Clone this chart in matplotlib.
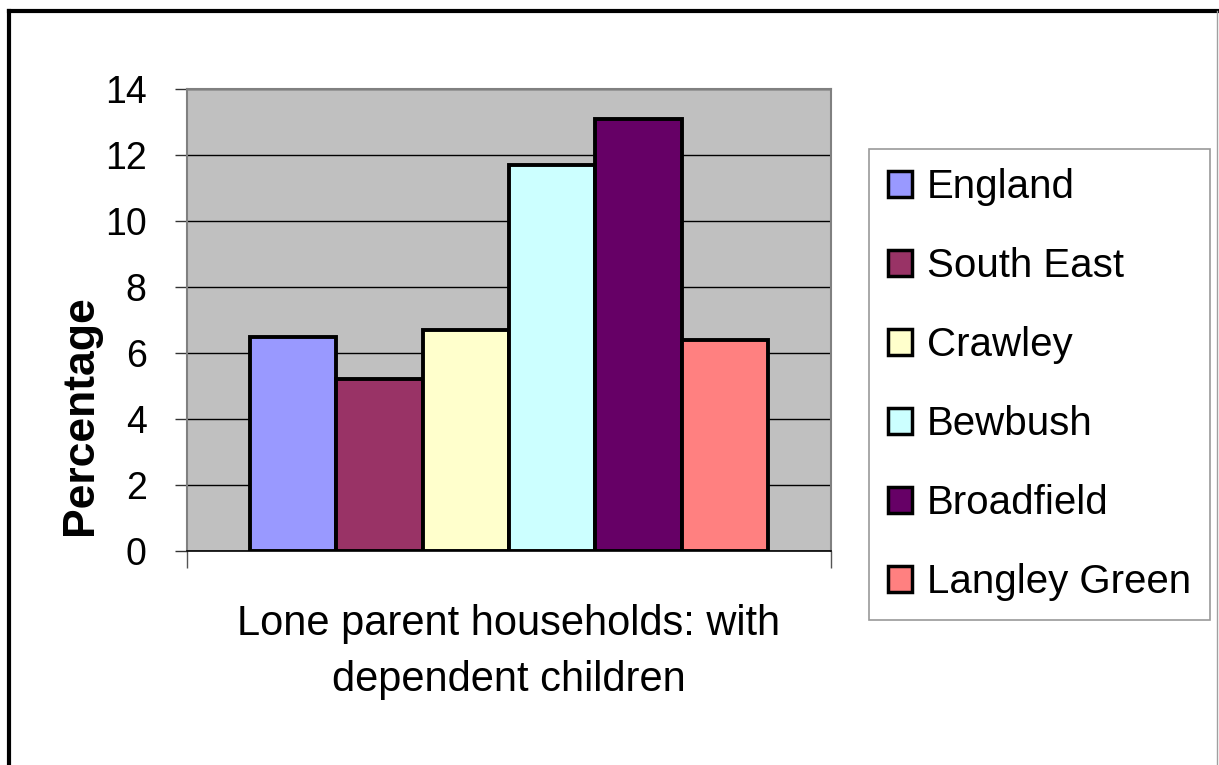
import matplotlib.pyplot as plt
from matplotlib.lines import Line2D

# Data
areas = ["England", "South East", "Crawley", "Bewbush", "Broadfield", "Langley Green"]
values = [6.5, 5.2, 6.7, 11.7, 13.1, 6.4]
colors = ["#9999FF", "#993366", "#FFFFCC", "#CCFFFF", "#660066", "#FF8080"]
category = "Lone parent households: with\ndependent children"
yticks = [0, 2, 4, 6, 8, 10, 12, 14]

plt.rcParams["font.family"] = ["Liberation Sans", "DejaVu Sans"]

W, H = 1219, 765
fig = plt.figure(figsize=(W / 100, H / 100), dpi=100)
ax = fig.add_axes([187 / W, 1 - 551 / H, (831 - 187) / W, (551 - 89) / H])
ax.set_facecolor("#C0C0C0")

n = len(values)
bw = 0.804 / n
for i, (name, v, c) in enumerate(zip(areas, values, colors)):
    x = -0.402 + bw * (i + 0.5)
    ax.bar(x, v, width=bw, color=c, edgecolor="black", linewidth=2.8,
           label=name, zorder=3)

ax.set_xlim(-0.5, 0.5)
ax.set_ylim(0, 14)
ax.set_yticks(yticks)
ax.set_yticklabels([str(t) for t in yticks], fontsize=27)
ax.yaxis.grid(True, color="black", linewidth=1.0, zorder=1)
ax.set_axisbelow(True)
ax.tick_params(axis="y", length=9, width=1, color="#333333", pad=20)
ax.set_xticks([-0.5, 0.5])
ax.set_xticklabels([])
ax.tick_params(axis="x", length=12, width=1, color="#555555")
for s in ["top", "right", "left"]:
    ax.spines[s].set_color("#808080")
    ax.spines[s].set_linewidth(1.5)
ax.spines["bottom"].set_color("black")
ax.spines["bottom"].set_linewidth(1.2)

fig.text(80 / W, 1 - 415 / H, "Percentage", rotation=90, fontsize=32,
         fontweight="bold", ha="center", va="center")
fig.text(509 / W, 1 - 652 / H, category, fontsize=30, ha="center",
         va="center", linespacing=1.5)

leg = fig.legend(loc="upper left", bbox_to_anchor=(869 / W, 1 - 149 / H),
                 prop={"size": 29}, frameon=True,
                 fancybox=False, edgecolor="#808080", handlelength=0.6,
                 handleheight=0.6, handletextpad=0.36, labelspacing=1.02,
                 borderpad=0.47, borderaxespad=0)
leg.get_frame().set_linewidth(1.2)
for p in leg.get_patches():
    p.set_linewidth(2.5)

# outer chart border
fig.add_artist(Line2D([9 / W, 1217 / W], [1 - 11 / H, 1 - 11 / H], color="black", linewidth=3))
fig.add_artist(Line2D([9 / W, 9 / W], [1 - 11 / H, 0], color="black", linewidth=3))
fig.add_artist(Line2D([1217 / W, 1217 / W], [1 - 11 / H, 0], color="#A0A0A0", linewidth=1))

fig.savefig("out.png", dpi=100, facecolor="white")
